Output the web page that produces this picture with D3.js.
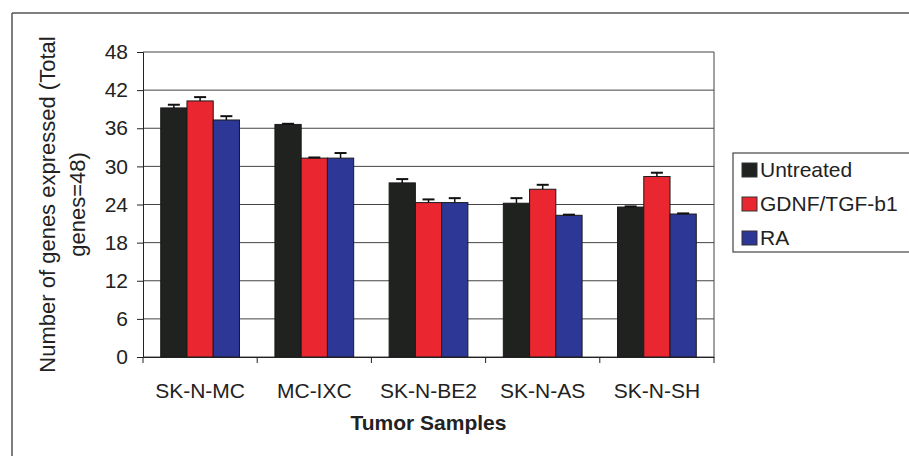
<!DOCTYPE html>
<html>
<head>
<meta charset="utf-8">
<script src="https://cdn.jsdelivr.net/npm/d3@7"></script>
<style>
  body { margin: 0; background: #fff; }
  text { font-family: "Liberation Sans", Arial, sans-serif; fill: #222; }
</style>
</head>
<body>
<svg id="chart" width="909" height="456"></svg>
<script>
var categories = ['SK-N-MC', 'MC-IXC', 'SK-N-BE2', 'SK-N-AS', 'SK-N-SH'];
var seriesNames = ['Untreated', 'GDNF/TGF-b1', 'RA'];
var untreated = [39.2, 36.6, 27.4, 24.2, 23.6];
var gdnf = [40.3, 31.3, 24.3, 26.4, 28.4];
var ra = [37.3, 31.3, 24.3, 22.3, 22.5];
var untreatedErr = [0.5, 0.1, 0.6, 0.8, 0.1];
var gdnfErr = [0.6, 0.1, 0.5, 0.7, 0.6];
var raErr = [0.6, 0.8, 0.7, 0.1, 0.1];
var yTicks = [0, 6, 12, 18, 24, 30, 36, 42, 48];

var colors = ['#1f221f', '#ea2630', '#2c3796'];

var margin = { top: 52, left: 143 };
var width = 571;
var height = 305;

var svg = d3.select('#chart');

// outer frame (cut off at right and bottom)
svg.append('line').attr('x1', 12).attr('y1', 13).attr('x2', 909).attr('y2', 13)
  .attr('stroke', '#555').attr('stroke-width', 1.5);
svg.append('line').attr('x1', 12).attr('y1', 13).attr('x2', 12).attr('y2', 456)
  .attr('stroke', '#555').attr('stroke-width', 1.5);

var chart = svg.append('g')
  .attr('transform', 'translate(' + margin.left + ',' + margin.top + ')');

var y = d3.scaleLinear().domain([0, 48]).range([height, 0]);
var x0 = d3.scaleBand().domain(categories).range([0, width]);
var x1 = d3.scaleBand().domain(seriesNames).range([0, x0.bandwidth()]).paddingOuter(0.675);

// grid
chart.selectAll('.grid')
  .data(yTicks)
  .enter().append('line')
  .attr('class', 'grid')
  .attr('x1', 0).attr('x2', width)
  .attr('y1', d => y(d)).attr('y2', d => y(d))
  .attr('stroke', '#444').attr('stroke-width', 1);

chart.append('line')
  .attr('x1', width).attr('x2', width).attr('y1', 0).attr('y2', height)
  .attr('stroke', '#444');

var values = [untreated, gdnf, ra];
var errs = [untreatedErr, gdnfErr, raErr];
var rows = [];
seriesNames.forEach((s, i) => {
  categories.forEach((c, j) => {
    rows.push({ cat: c, series: s, idx: i, value: values[i][j], err: errs[i][j] });
  });
});

chart.selectAll('.bar')
  .data(rows)
  .enter().append('rect')
  .attr('class', 'bar')
  .attr('x', d => x0(d.cat) + x1(d.series))
  .attr('width', x1.bandwidth())
  .attr('y', d => y(d.value))
  .attr('height', d => height - y(d.value))
  .style('fill', d => colors[d.idx])
  .style('stroke', '#1a1a1a')
  .style('stroke-width', 1);

// error bars (plus side)
var errG = chart.selectAll('.err')
  .data(rows)
  .enter().append('g')
  .attr('class', 'err');
errG.append('line')
  .attr('x1', d => x0(d.cat) + x1(d.series) + x1.bandwidth() / 2)
  .attr('x2', d => x0(d.cat) + x1(d.series) + x1.bandwidth() / 2)
  .attr('y1', d => y(d.value))
  .attr('y2', d => y(d.value + d.err))
  .attr('stroke', '#111').attr('stroke-width', 1.5);
errG.append('line')
  .attr('x1', d => x0(d.cat) + x1(d.series) + x1.bandwidth() / 2 - 6)
  .attr('x2', d => x0(d.cat) + x1(d.series) + x1.bandwidth() / 2 + 6)
  .attr('y1', d => y(d.value + d.err))
  .attr('y2', d => y(d.value + d.err))
  .attr('stroke', '#111').attr('stroke-width', 2);

// axes
var yAxis = d3.axisLeft(y).tickValues(yTicks).tickSize(6).tickPadding(9);
var gy = chart.append('g').call(yAxis);
gy.selectAll('text').style('font-size', '21px').attr('fill', '#222');
gy.selectAll('line, path').attr('stroke', '#222');

var xAxis = d3.axisBottom(x0).tickSize(0).tickPadding(26);
var gx = chart.append('g')
  .attr('transform', 'translate(0,' + height + ')')
  .call(xAxis);
gx.selectAll('text').style('font-size', '21px').attr('fill', '#222');
gx.select('.domain').attr('stroke', '#222');

// category separator ticks
var bounds = categories.map(c => x0(c)).concat([width]);
gx.selectAll('.sep')
  .data(bounds)
  .enter().append('line')
  .attr('class', 'sep')
  .attr('x1', d => d).attr('x2', d => d)
  .attr('y1', 0).attr('y2', 6)
  .attr('stroke', '#222');

// axis titles
chart.append('text')
  .attr('x', width / 2)
  .attr('y', 430 - margin.top)
  .attr('text-anchor', 'middle')
  .style('font-size', '21px')
  .style('font-weight', 'bold')
  .text('Tumor Samples');

var yTitle = svg.append('g')
  .attr('transform', 'translate(0,' + (margin.top + height / 2) + ') rotate(-90)');
yTitle.append('text')
  .attr('x', 0).attr('y', 55)
  .attr('text-anchor', 'middle')
  .style('font-size', '22px')
  .text('Number of genes expressed (Total');
yTitle.append('text')
  .attr('x', 0).attr('y', 85)
  .attr('text-anchor', 'middle')
  .style('font-size', '22px')
  .text('genes=48)');

// legend
var legend = svg.append('g');
legend.append('rect')
  .attr('x', 733).attr('y', 153)
  .attr('width', 180).attr('height', 99)
  .attr('fill', '#fff')
  .attr('stroke', '#444').attr('stroke-width', 1.2);

var items = legend.selectAll('.item')
  .data(seriesNames)
  .enter().append('g')
  .attr('class', 'item')
  .attr('transform', (d, i) => 'translate(742,' + (177 + i * 34) + ')');
items.append('rect')
  .attr('x', 0).attr('y', -14)
  .attr('width', 15).attr('height', 14)
  .style('fill', (d, i) => colors[i])
  .style('stroke', '#333');
items.append('text')
  .attr('x', 18).attr('y', 0)
  .style('font-size', '21px')
  .text(d => d);
</script>
</body>
</html>
